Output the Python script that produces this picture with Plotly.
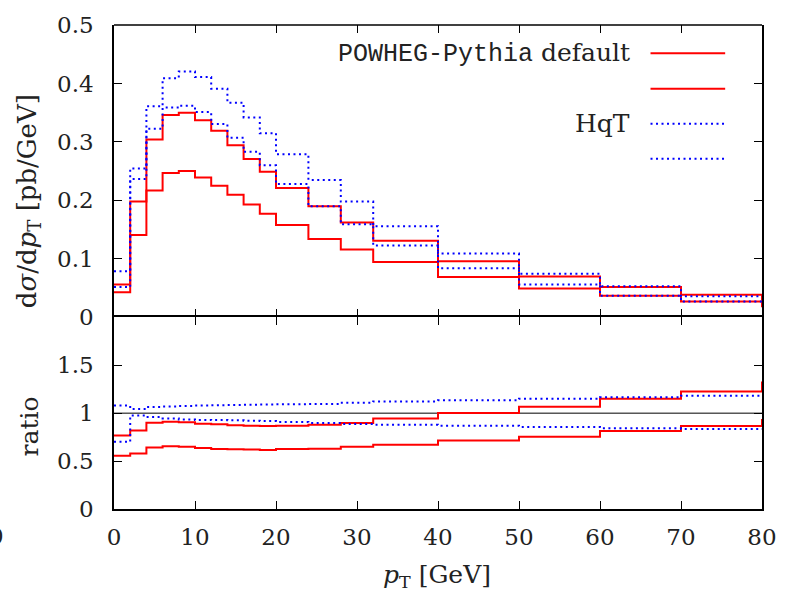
import plotly.graph_objects as go

# bin edges (last bin lies beyond the visible range, only its step edge shows at 80)
edges = [0, 2, 4, 6, 8, 10, 12, 14, 16, 18, 20, 24, 28, 32, 40, 50, 60, 70, 80, 90]

# d sigma / d pT [pb/GeV], one value per bin
powheg_up = [0.056, 0.198, 0.304, 0.346, 0.350, 0.337, 0.319, 0.2945, 0.271, 0.249,
             0.221, 0.190, 0.162, 0.131, 0.096, 0.070, 0.052, 0.0387, 0.030]
powheg_lo = [0.043, 0.141, 0.217, 0.247, 0.2505, 0.239, 0.225, 0.2095, 0.193, 0.177,
             0.158, 0.134, 0.116, 0.0946, 0.069, 0.0495, 0.037, 0.027, 0.019]
hqt_up = [0.079, 0.2545, 0.361, 0.409, 0.4206, 0.411, 0.391, 0.367, 0.342, 0.315,
          0.279, 0.235, 0.198, 0.156, 0.109, 0.0745, 0.053, 0.036, 0.036]
hqt_lo = [0.052, 0.2365, 0.3226, 0.3587, 0.362, 0.351, 0.3305, 0.307, 0.283, 0.260,
          0.228, 0.190, 0.159, 0.1228, 0.084, 0.056, 0.037, 0.027, 0.027]

# ratios
ratio_powheg_up = [0.767, 0.818, 0.900, 0.911, 0.904, 0.890, 0.885, 0.873, 0.870, 0.867,
                   0.870, 0.880, 0.897, 0.945, 1.003, 1.067, 1.150, 1.226, 1.32]
ratio_powheg_lo = [0.555, 0.579, 0.643, 0.654, 0.650, 0.637, 0.627, 0.624, 0.620, 0.617,
                   0.627, 0.630, 0.650, 0.671, 0.715, 0.755, 0.815, 0.866, 0.93]
ratio_hqt_up = [1.079, 1.044, 1.065, 1.070, 1.075, 1.080, 1.083, 1.085, 1.087, 1.090,
                1.093, 1.096, 1.110, 1.123, 1.134, 1.150, 1.165, 1.182, 1.182]
ratio_hqt_lo = [0.702, 0.976, 0.959, 0.945, 0.935, 0.930, 0.928, 0.925, 0.921, 0.918,
                0.908, 0.897, 0.887, 0.880, 0.870, 0.856, 0.842, 0.835, 0.835]

x_ticks = [0, 10, 20, 30, 40, 50, 60, 70, 80]
top_ticks = [0, 0.1, 0.2, 0.3, 0.4, 0.5]
top_ticktext = ["0", "0.1", "0.2", "0.3", "0.4", "0.5"]
ratio_ticks = [0, 0.5, 1, 1.5, 2]
ratio_ticktext = ["0", "0.5", "1", "1.5", ""]

RED = "#ff0000"
BLUE = "#0000ff"
SERIF = "DejaVu Serif"
TXT = "#222222"
DOT = "2px,3.5px"


def steps(vals):
    return edges[:-1] + [edges[-1]], list(vals) + [vals[-1]]


fig = go.Figure()

series = [
    (powheg_up, ratio_powheg_up, RED, "solid", 2),
    (powheg_lo, ratio_powheg_lo, RED, "solid", 2),
    (hqt_up, ratio_hqt_up, BLUE, DOT, 2),
    (hqt_lo, ratio_hqt_lo, BLUE, DOT, 2),
]

# reference line at ratio 1 (drawn first, beneath curves)
fig.add_trace(go.Scatter(x=[edges[0], edges[-1]], y=[1, 1], mode="lines",
                         line=dict(color="black", width=1), xaxis="x", yaxis="y",
                         showlegend=False, hoverinfo="skip"))

for top, rat, col, dash, w in series:
    xs, ys = steps(top)
    fig.add_trace(go.Scatter(x=xs, y=ys, mode="lines", line_shape="hv",
                             line=dict(color=col, width=w, dash=dash),
                             xaxis="x2", yaxis="y2", showlegend=False))
    xs, ys = steps(rat)
    fig.add_trace(go.Scatter(x=xs, y=ys, mode="lines", line_shape="hv",
                             line=dict(color=col, width=w, dash=dash),
                             xaxis="x", yaxis="y", showlegend=False))


def axis_common(showline=True):
    return dict(showline=showline, linecolor="black", linewidth=1.5, mirror="ticks",
                ticks="inside", ticklen=8, tickwidth=1, tickcolor="black",
                showgrid=False, zeroline=False,
                tickfont=dict(family=SERIF, size=23, color=TXT))


split = 0.396
fig.update_layout(
    width=789, height=598,
    margin=dict(l=114, r=24, t=19, b=89),
    plot_bgcolor="white", paper_bgcolor="white",
    xaxis=dict(domain=[0, 1], range=[0, 80], tickvals=x_ticks, anchor="y",
               ticklabelstandoff=7, **axis_common()),
    yaxis=dict(domain=[0, split], range=[0, 2], tickvals=ratio_ticks, ticktext=ratio_ticktext,
               anchor="x", ticklabelstandoff=14, **axis_common()),
    xaxis2=dict(domain=[0, 1], range=[0, 80], tickvals=x_ticks, anchor="y2",
                showticklabels=False, matches="x", **axis_common(False)),
    yaxis2=dict(domain=[split, 1], range=[0, 0.5], tickvals=top_ticks, ticktext=top_ticktext,
                anchor="x2", ticklabelstandoff=14, **axis_common()),
)
# top frame line of the upper panel (its x axis line is off to avoid a doubled divider)
fig.add_shape(type="line", xref="x2 domain", yref="y2 domain", x0=0, x1=1, y0=1, y1=1,
              line=dict(color="black", width=1.5))

W, L, B, H = 651.0, 114.0, 509.0, 490.0


def px(xp):
    return (xp - L) / W


def py(yp):
    return (B - yp) / H


ann = []
ann.append(dict(text="d<i>σ</i>/d<i>p</i><sub>T</sub> [pb/GeV]", x=px(28), y=py(197),
                textangle=-90, font=dict(family=SERIF, size=26, color=TXT)))
ann.append(dict(text="ratio", x=px(29), y=py(425), textangle=-90,
                font=dict(family=SERIF, size=25, color=TXT)))
ann.append(dict(text="<i>p</i><sub>T</sub> [GeV]", x=px(438), y=py(577),
                font=dict(family=SERIF, size=25, color=TXT)))
ann.append(dict(text="0", x=px(5), y=py(536), xanchor="right",
                font=dict(family=SERIF, size=23, color=TXT)))

# legend (text on the left, sample on the right)
leg_rows = [py(47.5), py(83.5), py(119), py(154.5)]
leg_text = ["<span style='font-family:Liberation Mono;font-size:25px'>POWHEG-Pythia</span> default",
            "", "HqT", ""]
leg_col = [RED, RED, BLUE, BLUE]
leg_dash = ["solid", "solid", DOT, DOT]
for yy, t, c, d in zip(leg_rows, leg_text, leg_col, leg_dash):
    if t:
        ann.append(dict(text=t, x=px(634), y=yy, xanchor="right",
                        font=dict(family=SERIF, size=25, color=TXT)))
    fig.add_shape(type="line", xref="paper", yref="paper", x0=px(653), x1=px(728),
                  y0=yy, y1=yy, line=dict(color=c, width=2, dash=d))

for a in ann:
    a.update(xref="paper", yref="paper", showarrow=False)
    a.setdefault("xanchor", "center")
    a.setdefault("yanchor", "middle")
    fig.add_annotation(**a)

fig.write_html("out.html")
